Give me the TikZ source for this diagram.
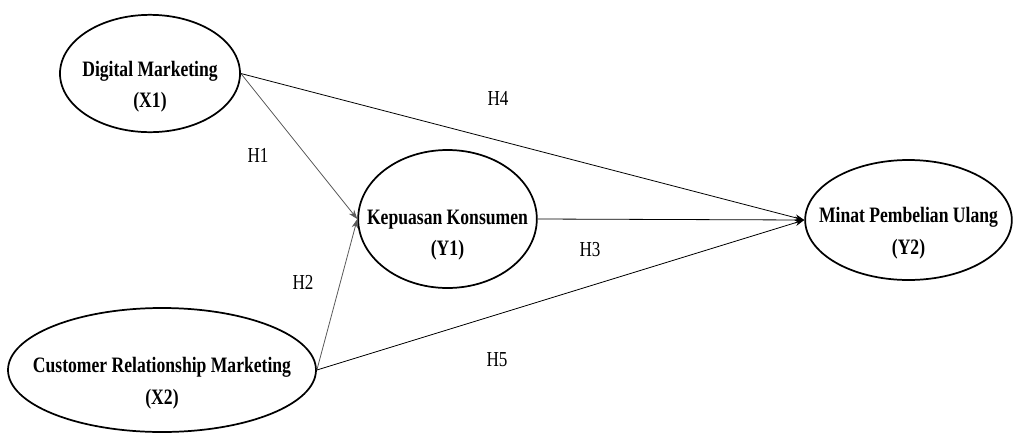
\documentclass[tikz,border=0pt]{standalone}
\usepackage{fontspec}
\setmainfont[FakeStretch=0.8]{Liberation Serif}
\usetikzlibrary{shapes.geometric,arrows.meta}

\tikzset{
  varbox/.style={ellipse,draw,line width=1.3pt,inner sep=0pt},
  vartext/.style={align=center,inner sep=0pt,yshift=-10pt,
    font=\fontsize{16.5}{23.5}\selectfont\bfseries},
  hyp/.style={-{Stealth[length=7pt,width=5pt]},line width=0.6pt},
  hyplabel/.style={inner sep=0.75pt,font=\fontsize{16}{18}\selectfont}
}

\begin{document}
\begin{tikzpicture}[x=0.75pt,y=0.75pt,yscale=-1,xscale=1]
\useasboundingbox (0,0) rectangle (1015,433);

%Ellipses
\node [varbox,minimum width=135pt,minimum height=88pt,
  label={[vartext]center:Digital Marketing\\(X1)}] (x1) at (150,73.5) {};
\node [varbox,minimum width=231pt,minimum height=93pt,
  label={[vartext]center:Customer Relationship Marketing\\(X2)}] (x2) at (162,370) {};
\node [varbox,minimum width=134pt,minimum height=103.5pt,
  label={[vartext,yshift=-2pt]center:Kepuasan Konsumen\\(Y1)}] (y1) at (447.5,219) {};
\node [varbox,minimum width=155pt,minimum height=90pt,
  label={[vartext]center:Minat Pembelian Ulang\\(Y2)}] (y2) at (908.5,220) {};

%Straight Lines
\draw [hyp,color=black!65] (x1.east) -- (y1.west) ;
\draw [hyp,color=black!65] (x2.east) -- (y1.west) ;
\draw [hyp] (y1.east) -- (y2.west) ;
\draw [hyp] (x1.east) -- (y2.west) ;
\draw [hyp] (x2.east) -- (y2.west) ;

% Text Node
\node [hyplabel] (h1) at (258,155) {H1};
% Text Node
\node [hyplabel] (h2) at (303,282) {H2};
% Text Node
\node [hyplabel] (h3) at (590,250) {H3};
% Text Node
\node [hyplabel] (h4) at (498,98) {H4};
% Text Node
\node [hyplabel] (h5) at (497,360) {H5};

\end{tikzpicture}
\end{document}
